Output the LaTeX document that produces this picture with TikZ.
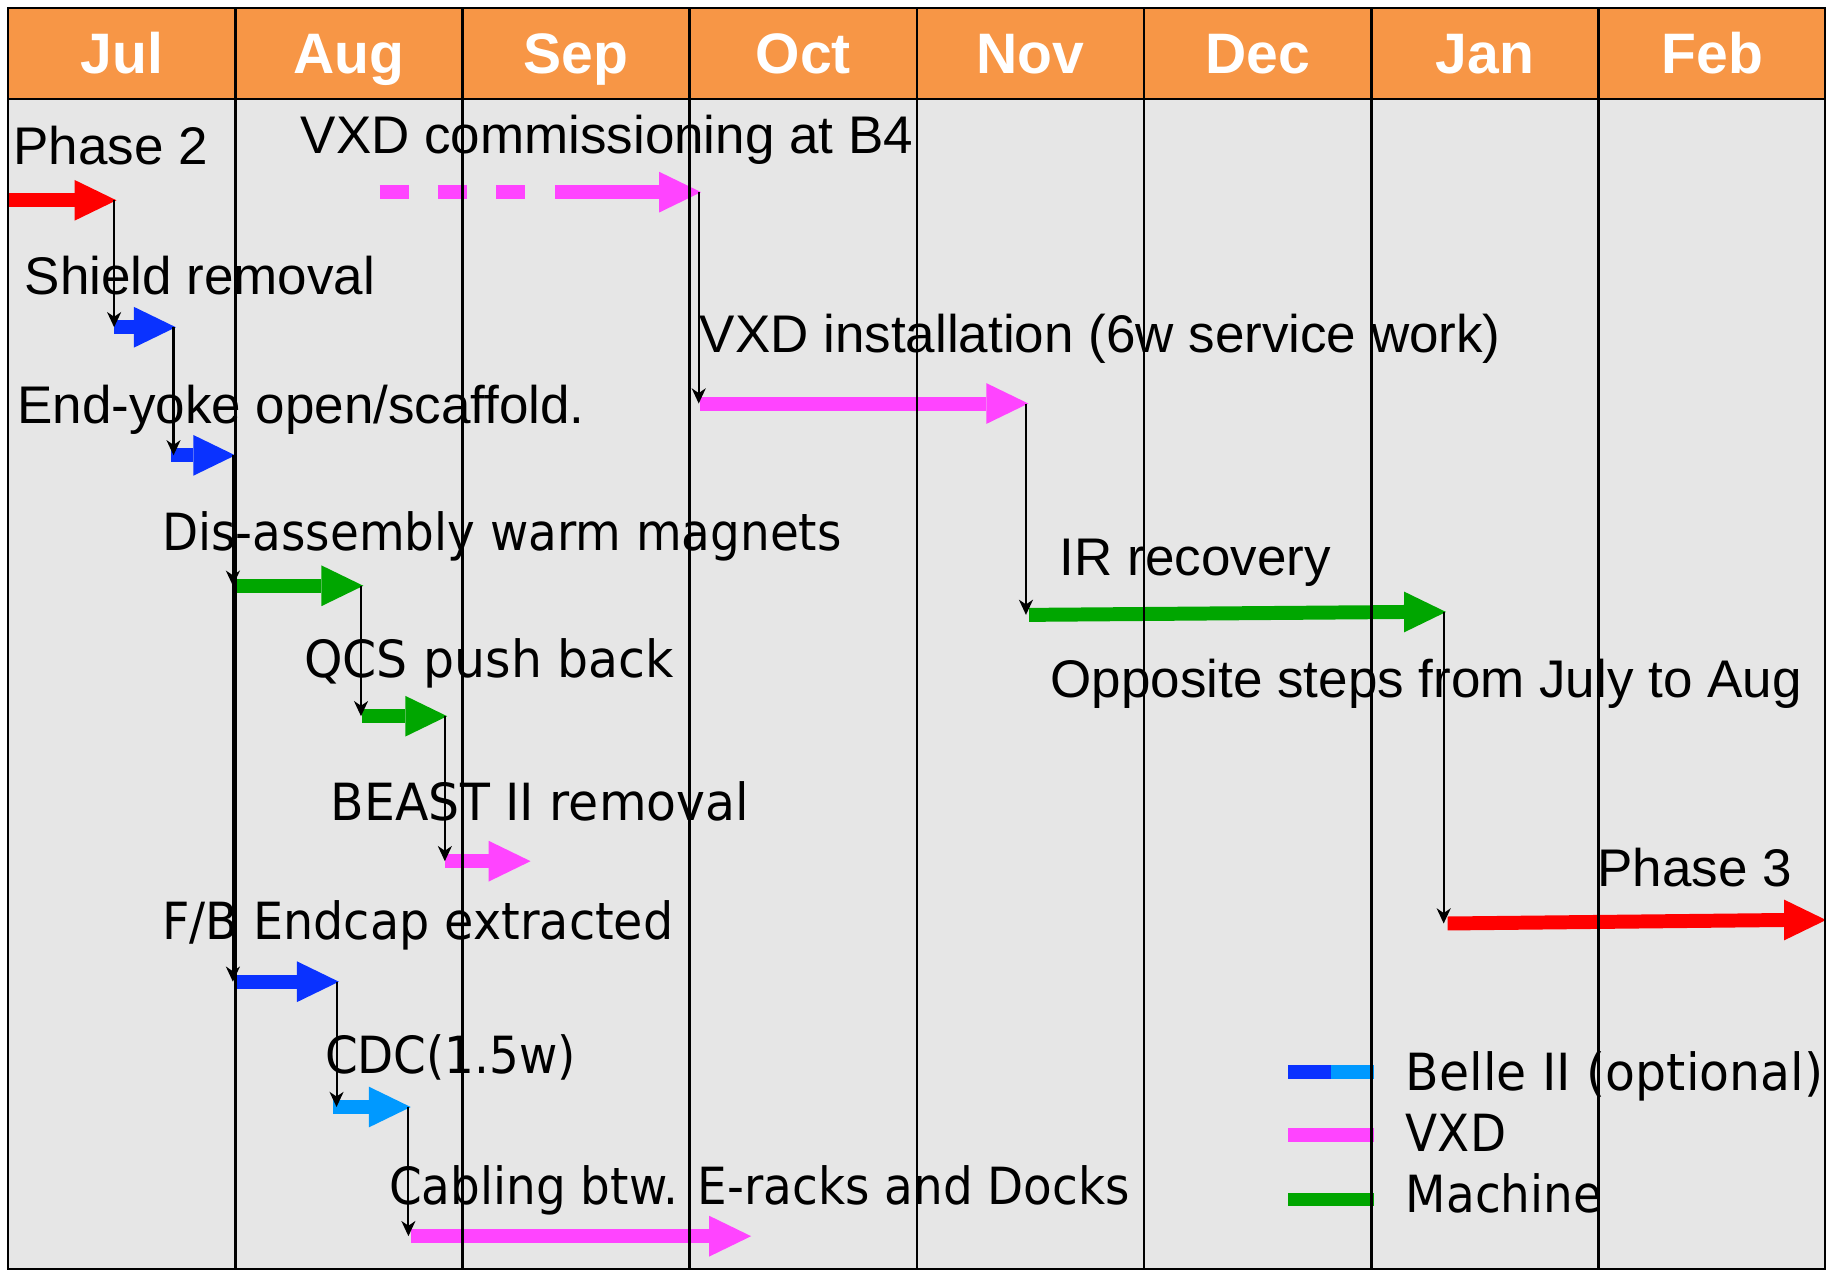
\documentclass[tikz,border=0pt]{standalone}
\usepackage{fontspec}
\setmainfont{Liberation Sans}
\newfontfamily\tfont[FakeStretch=0.915]{DejaVu Sans}
\newfontfamily\tfontm[FakeStretch=0.93]{DejaVu Sans}
\newfontfamily\tfontw[FakeStretch=0.955]{DejaVu Sans}
\usetikzlibrary{arrows.meta,calc}
\definecolor{hdr}{RGB}{247,150,70}
\definecolor{bodygray}{RGB}{230,230,230}
\definecolor{cred}{RGB}{255,0,0}
\definecolor{cblue}{RGB}{10,50,255}
\definecolor{clblue}{RGB}{0,153,255}
\definecolor{cgreen}{RGB}{0,166,0}
\definecolor{cmag}{RGB}{255,68,255}
\newcommand\ganttbar[3]{%
  \fill[#1] ($(#2)+(0,-6)$) -- ($(#3)+(-36,-6)$) -- ($(#3)+(-36,6)$) -- ($(#2)+(0,6)$) -- cycle;
  \fill[#1] ($(#3)+(-36,-17.5)$) -- (#3) -- ($(#3)+(-36,17.5)$) -- cycle;}
\newcommand\linkdown[2]{%
  \draw[conn] ($(#1)+(-2,0)$) -- ($(#1|-#2)+(-2,0)$);}
\begin{document}
\begin{tikzpicture}[x=1pt,y=-1pt,
  conn/.style={line width=1.8pt,-{Stealth[length=13pt,width=12pt,inset=4pt]}},
  lab/.style={anchor=base west,inner sep=0pt,font=\fontsize{45.5}{50}\selectfont},
  tlab/.style={anchor=base west,inner sep=0pt,font=\tfont\fontsize{44}{48}\selectfont},
  tlabm/.style={anchor=base west,inner sep=0pt,font=\tfontm\fontsize{44}{48}\selectfont},
  tlabw/.style={anchor=base west,inner sep=0pt,font=\tfontw\fontsize{44}{48}\selectfont},
  mon/.style={anchor=base,inner sep=0pt,text=white,font=\bfseries\fontsize{49}{52}\selectfont},
  grid/.style={line width=2.2pt,black}]
\useasboundingbox (0,0) rectangle (1568,1090.6);
% backgrounds
\fill[bodygray] (7,85) rectangle (1567,1090);
\fill[hdr] (7,7) rectangle (1567,85);
% months
\foreach \m [count=\i from 0] in {Jul,Aug,Sep,Oct,Nov,Dec,Jan,Feb}
  \node[mon] (m\i) at ({104.5+195.1*\i},63) {\m};
% coordinates of bars
\coordinate (p2s) at (7,172);      \coordinate (p2t) at (100,172);
\coordinate (shs) at (98,281);     \coordinate (sht) at (151,281);
\coordinate (eys) at (147,391);    \coordinate (eyt) at (202,391);
\coordinate (das) at (203,503);    \coordinate (dat) at (312,503);
\coordinate (qcs) at (311,615);    \coordinate (qct) at (384,615);
\coordinate (bes) at (382,739.5);  \coordinate (bet) at (455.6,739.5);
\coordinate (fbs) at (203,843);    \coordinate (fbt) at (291,843);
\coordinate (cds) at (286,950.6);  \coordinate (cdt) at (352.7,950.6);
\coordinate (cas) at (352.7,1061.5); \coordinate (cat) at (645,1061.5);
\coordinate (vcs) at (477,165);    \coordinate (vct) at (602,165);
\coordinate (vis) at (600.7,346.5); \coordinate (vit) at (883,346.5);
\coordinate (irs) at (883.6,528);  \coordinate (irt) at (1241.7,525.5);
\coordinate (p3s) at (1243,793);   \coordinate (p3t) at (1568,790);
% bars
\ganttbar{cred}{p2s}{p2t}
\ganttbar{cblue}{shs}{sht}
\ganttbar{cblue}{eys}{eyt}
\ganttbar{cgreen}{das}{dat}
\ganttbar{cgreen}{qcs}{qct}
\ganttbar{cmag}{bes}{bet}
\ganttbar{cblue}{fbs}{fbt}
\ganttbar{clblue}{cds}{cdt}
\ganttbar{cmag}{cas}{cat}
\draw[cmag,line width=12pt,dash pattern=on 25pt off 25pt] (326,165) -- (452,165);
\ganttbar{cmag}{vcs}{vct}
\ganttbar{cmag}{vis}{vit}
\ganttbar{cgreen}{irs}{irt}
\ganttbar{cred}{p3s}{p3t}
% legend bars
\draw[cblue,line width=12pt] (1106,920.3) -- (1143,920.3);
\draw[clblue,line width=12pt] (1143,920.3) -- (1179.5,920.3);
\draw[cmag,line width=12pt] (1106,974.7) -- (1179.5,974.7);
\draw[cgreen,line width=12pt] (1106,1030) -- (1179.5,1030);
% grid
\foreach \i in {1,...,7}
  \draw[grid] ({7+195.1*\i},7) -- ({7+195.1*\i},1090);
\draw[grid] (7,85) -- (1567,85);
\draw[grid] (7,7) rectangle (1567,1089.5);
% connectors
\linkdown{p2t}{shs}
\linkdown{sht}{eys}
\linkdown{eyt}{das}
\linkdown{eyt}{fbs}
\linkdown{dat}{qcs}
\linkdown{qct}{bes}
\linkdown{fbt}{cds}
\linkdown{cdt}{cas}
\linkdown{vct}{vis}
\linkdown{vit}{irs}
\linkdown{irt}{p3s}
% labels
\node[lab] (l1) at (11.5,141) {Phase 2};
\node[lab] (l2) at (258,132) {VXD commissioning at B4};
\node[lab] (l3) at (21,253) {Shield removal};
\node[lab] (l4) at (14.6,364) {End-yoke open/scaffold.};
\node[lab] (l5) at (600.7,303) {VXD installation (6w service work)};
\node[lab] (l6) at (910,494) {IR recovery};
\node[lab] (l7) at (902,598.8) {Opposite steps from July to Aug};
\node[lab] (l8) at (1371.5,761.4) {Phase 3};
\node[tlab] (t1) at (139,473) {Dis-assembly warm magnets};
\node[tlabw] (t2) at (261,582) {QCS push back};
\node[tlabw] (t3) at (284,704.6) {BEAST II removal};
\node[tlabm] (t4) at (139,807) {F/B Endcap extracted};
\node[tlab] (t5) at (279,921.6) {CDC(1.5w)};
\node[tlab] (t6) at (334,1034) {Cabling btw. E-racks and Docks};
\node[tlabw] (g1) at (1207,936) {Belle II (optional)};
\node[tlab] (g2) at (1207,989) {VXD};
\node[tlab] (g3) at (1207,1041) {Machine};
\end{tikzpicture}
\end{document}
